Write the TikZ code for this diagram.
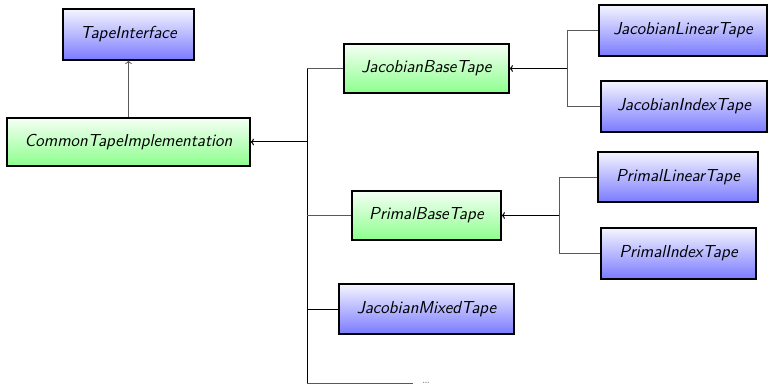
\documentclass[tikz,border=0pt]{standalone}
\usetikzlibrary{arrows.meta}
\begin{document}
\begin{tikzpicture}[x=0.75pt,y=-0.75pt,
  cls/.style={draw=black, line width=0.9pt, inner sep=0pt,
    font=\fontsize{13}{15}\sffamily\itshape},
  sz/.style 2 args={minimum width=#1*0.75pt, minimum height=#2*0.75pt},
  iface/.style={cls, top color=blue!4, bottom color=blue!52},
  impl/.style={cls, top color=green!4, bottom color=green!45},
  link/.style={draw=black!65, line width=0.6pt},
  bus/.style={draw=black, line width=0.75pt},
  inherit/.style={-{To[length=2.5pt,width=5pt]}}]
\useasboundingbox (0,0) rectangle (769,385);

% classes
\node[iface, sz={131}{51}] (ti)  at (128.5,34.5)  {TapeInterface};
\node[impl,  sz={243}{48}] (cti) at (128.5,142)   {CommonTapeImplementation};
\node[impl,  sz={165}{49}] (jbt) at (426.5,68.5)  {JacobianBaseTape};
\node[iface, sz={168}{51}] (jlt) at (683,30.5)    {JacobianLinearTape};
\node[iface, sz={166}{51}] (jit) at (684,106.5)   {JacobianIndexTape};
\node[impl,  sz={149}{49}] (pbt) at (426.5,215.5) {PrimalBaseTape};
\node[iface, sz={160}{50}] (plt) at (678,177)     {PrimalLinearTape};
\node[iface, sz={155}{51}] (pit) at (678.5,253.5) {PrimalIndexTape};
\node[iface, sz={175}{50}] (jmt) at (426.5,309)   {JacobianMixedTape};
\node[text=black!45, anchor=base, font=\sffamily, inner sep=0pt] (more) at (426,383) {\dots};

% junction columns
\coordinate (tx) at (307,0);
\coordinate (jx) at (567,0);
\coordinate (px) at (559,0);
\coordinate (dend) at (413,383);

% inheritance
\draw[link, inherit] (cti.north) -- (ti.south);

\draw[bus, inherit] (cti.east -| tx) -- (cti.east);
\draw[bus] (jbt.west -| tx) -- (dend -| tx);
\draw[link] (jbt.west) -- (jbt.west -| tx);
\draw[link] (pbt.west) -- (pbt.west -| tx);
\draw[bus] (jmt.west) -- (jmt.west -| tx);
\draw[link] (dend -| tx) -- (dend);

\draw[link] (jlt.west) -| (jit.west -| jx) -- (jit.west);
\draw[bus, inherit] (jbt.east -| jx) -- (jbt.east);

\draw[link] (plt.west) -| (pit.west -| px) -- (pit.west);
\draw[bus, inherit] (pbt.east -| px) -- (pbt.east);
\end{tikzpicture}
\end{document}
